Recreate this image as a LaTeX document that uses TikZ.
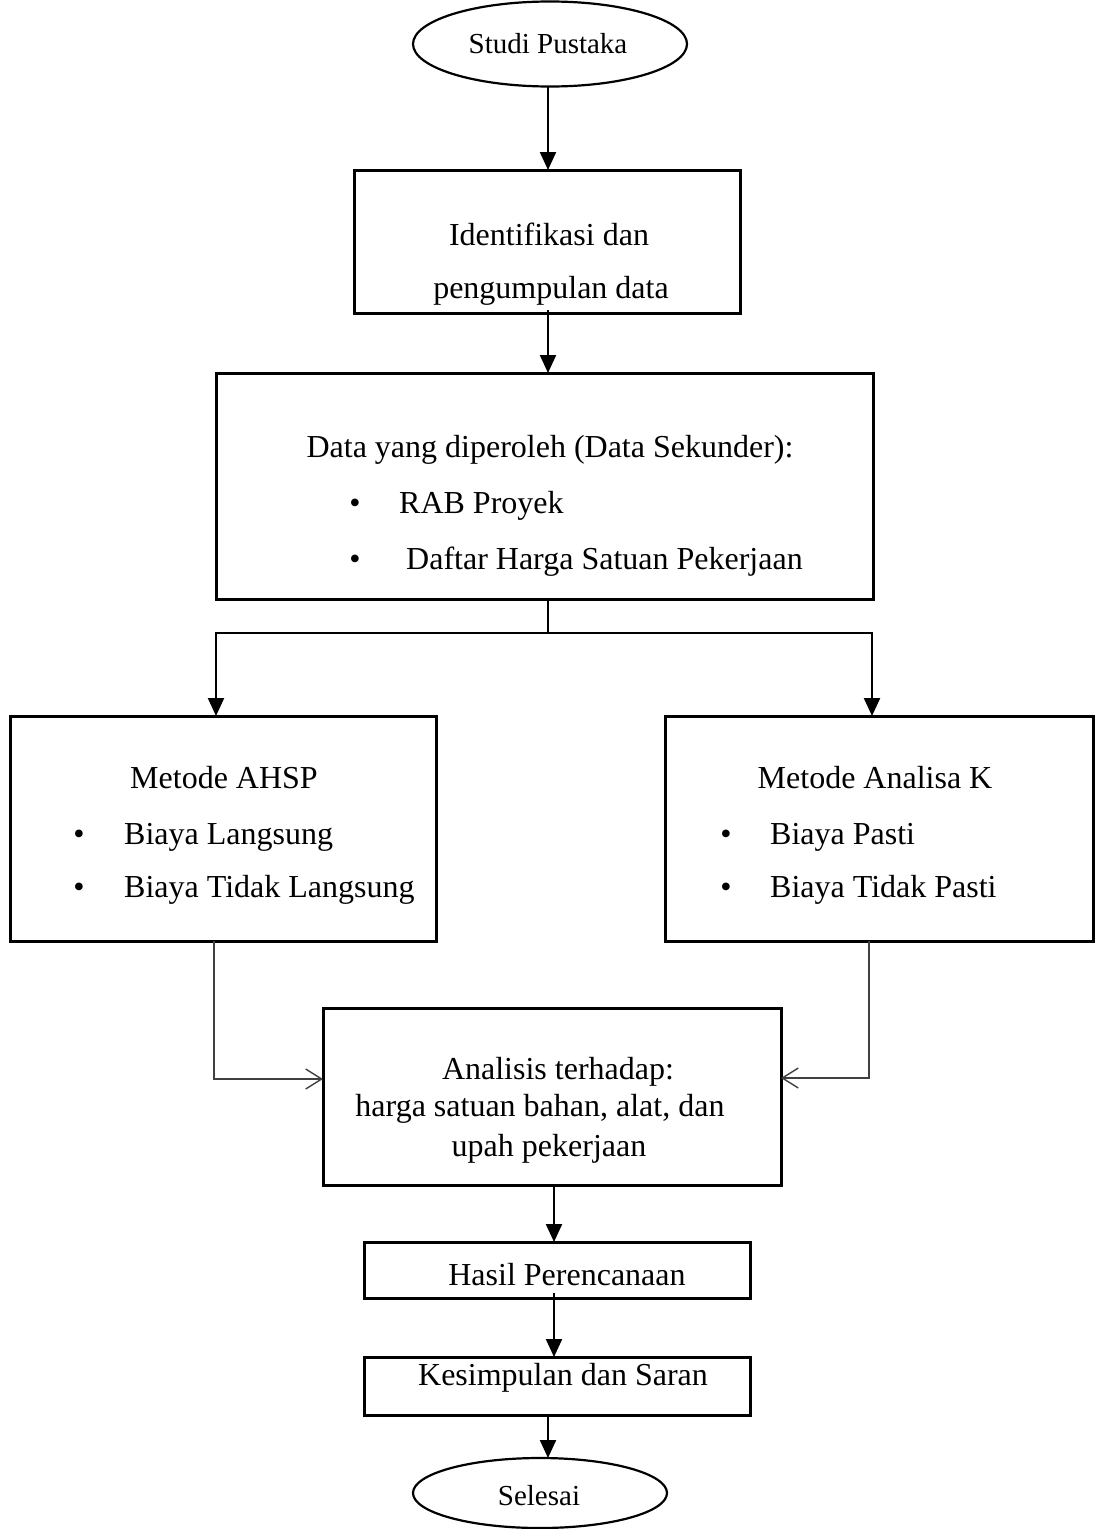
\documentclass[tikz,border=0pt]{standalone}
\usepackage{fontspec}
\setmainfont{Liberation Serif}
\usetikzlibrary{arrows.meta,shapes.geometric}
\begin{document}
\begin{tikzpicture}[x=1pt,y=-1pt,
 box/.style={draw, line width=3pt, anchor=north west, inner sep=0pt, outer sep=0pt},
 oval/.style={draw, ellipse, line width=2.2pt, inner sep=0pt, outer sep=0pt},
 txt/.style={inner sep=0pt, anchor=base, font=\fontsize{32}{38}\selectfont},
 txtl/.style={txt, anchor=base west},
 small/.style={inner sep=0pt, anchor=base, font=\fontsize{29}{35}\selectfont},
 arr/.style={line width=2.2pt, -{Triangle[length=18pt,width=16pt]}},
 plain/.style={line width=2.2pt},
 thinarr/.style={line width=1.4pt, draw=black!75, -{Straight Barb[length=16pt,width=20pt,line width=1.4pt]}}
]
\useasboundingbox (0,0) rectangle (1095,1529);

% shapes
\node[oval, minimum width=274pt, minimum height=85pt] (e1) at (550,44) {};
\node[box, minimum width=386pt, minimum height=143pt] (b1) at (354,170) {};
\node[box, minimum width=657pt, minimum height=226pt] (b2) at (216,373) {};
\node[box, minimum width=426pt, minimum height=225pt] (bL) at (10,716) {};
\node[box, minimum width=428pt, minimum height=225pt] (bR) at (665,716) {};
\node[box, minimum width=458pt, minimum height=177pt] (bA) at (323,1008) {};
\node[box, minimum width=386pt, minimum height=56pt] (bH) at (364,1242) {};
\node[box, minimum width=386pt, minimum height=58pt] (bK) at (364,1357) {};
\node[oval, minimum width=254pt, minimum height=70pt] (e2) at (540,1493) {};

% texts
\node[small] (tS) at (548,53) {Studi Pustaka};
\node[txt] (t1a) at (549,245) {Identifikasi dan};
\node[txt] (t1b) at (551,298) {pengumpulan data};
\node[txt] (t2a) at (550,457) {Data yang diperoleh (Data Sekunder):};
\node[txt] (t2b1) at (355,513) {•};
\node[txtl] (t2b) at (399,513) {RAB Proyek};
\node[txt] (t2c1) at (355,569) {•};
\node[txtl] (t2c) at (406,569) {Daftar Harga Satuan Pekerjaan};

\node[txt] (tLa) at (224,788) {Metode AHSP};
\node[txt] (tLb1) at (79,844) {•};
\node[txtl] (tLb) at (124,844) {Biaya Langsung};
\node[txt] (tLc1) at (79,897) {•};
\node[txtl] (tLc) at (124,897) {Biaya Tidak Langsung};

\node[txt] (tRa) at (875,788) {Metode Analisa K};
\node[txt] (tRb1) at (726,844) {•};
\node[txtl] (tRb) at (770,844) {Biaya Pasti};
\node[txt] (tRc1) at (726,897) {•};
\node[txtl] (tRc) at (770,897) {Biaya Tidak Pasti};

\node[txt] (tAa) at (558,1079) {Analisis terhadap:};
\node[txt] (tAb) at (540,1116) {harga satuan bahan, alat, dan};
\node[txt] (tAc) at (549,1156) {upah pekerjaan};

\node[txt] (tH) at (567,1285) {Hasil Perencanaan};
\node[txt] (tK) at (563,1385) {Kesimpulan dan Saran};
\node[small] (tE) at (539,1505) {Selesai};

% connectors
\coordinate (a1) at (548,87);
\draw[arr] (a1) -- (a1 |- b1.north);
\coordinate (a2) at (548,310);
\draw[arr] (a2) -- (a2 |- b2.north);
\coordinate (j) at (548,633);
\coordinate (jl) at (216,633);
\coordinate (jr) at (872,633);
\draw[plain] (j |- b2.south) -- (j);
\draw[arr] (j) -- (jl) -- (jl |- bL.north);
\draw[arr] (j) -- (jr) -- (jr |- bR.north);
\coordinate (cl) at (214,1079);
\coordinate (cr) at (869,1078);
\draw[thinarr] (cl |- bL.south) -- (cl) -- (cl -| bA.west);
\draw[thinarr] (cr |- bR.south) -- (cr) -- (cr -| bA.east);
\coordinate (a3) at (554,1185);
\draw[arr] (a3) -- (a3 |- bH.north);
\coordinate (a4) at (554,1293);
\draw[arr] (a4) -- (a4 |- bK.north);
\coordinate (a5) at (548,1415);
\draw[arr] (a5) -- (a5 |- e2.north);
\end{tikzpicture}
\end{document}
